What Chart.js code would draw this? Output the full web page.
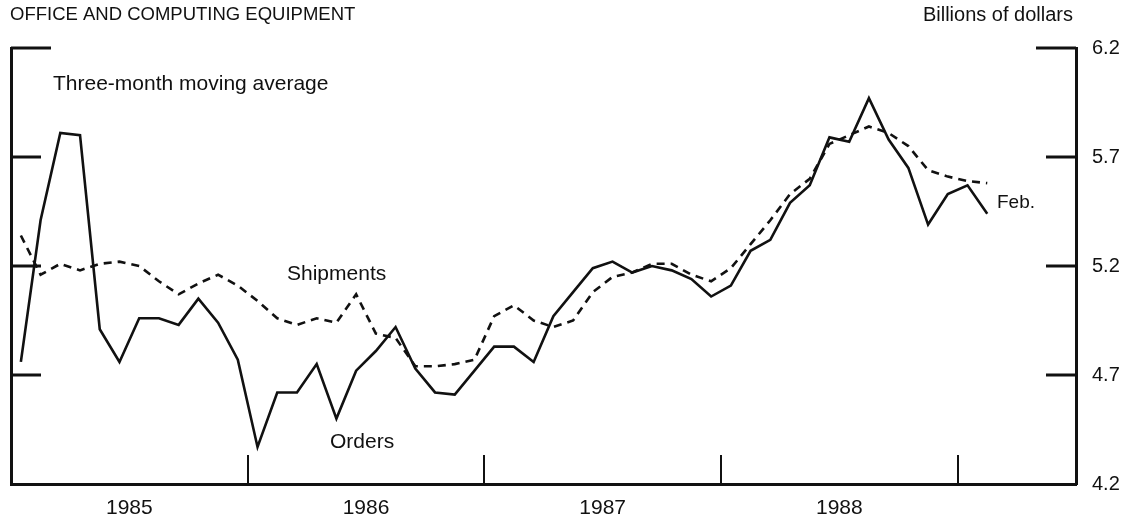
<!DOCTYPE html>
<html lang="en">
<head>
<meta charset="UTF-8">
<title>Office and Computing Equipment</title>
<script src="https://cdn.jsdelivr.net/npm/chart.js"></script>
<style>
    html, body { margin: 0; padding: 0; background: #fff; }
</style>
</head>
<body>
<canvas id="chart" width="1136" height="525"></canvas>
<script>
    // Three-month moving averages, monthly from Jan 1985 to Feb 1989 (billions of dollars)
    const orders = [
        4.76, 5.41, 5.81, 5.80, 4.91, 4.76, 4.96, 4.96, 4.93, 5.05, 4.94, 4.77,
        4.37, 4.62, 4.62, 4.75, 4.50, 4.72, 4.81, 4.92, 4.73, 4.62, 4.61, 4.72,
        4.83, 4.83, 4.76, 4.97, 5.08, 5.19, 5.22, 5.17, 5.20, 5.18, 5.14, 5.06,
        5.11, 5.27, 5.32, 5.49, 5.57, 5.79, 5.77, 5.97, 5.78, 5.65, 5.39, 5.53,
        5.57, 5.44
    ];
    const shipments = [
        5.34, 5.16, 5.21, 5.18, 5.21, 5.22, 5.20, 5.13, 5.07, 5.12, 5.16, 5.11,
        5.04, 4.96, 4.93, 4.96, 4.94, 5.07, 4.89, 4.87, 4.74, 4.74, 4.75, 4.77,
        4.97, 5.02, 4.95, 4.92, 4.95, 5.08, 5.15, 5.17, 5.21, 5.21, 5.16, 5.13,
        5.19, 5.30, 5.41, 5.53, 5.60, 5.76, 5.80, 5.84, 5.81, 5.75, 5.64, 5.61,
        5.59, 5.58
    ];
    const yearLabels = ['1985', '1986', '1987', '1988'];
    const yTicks = [4.2, 4.7, 5.2, 5.7, 6.2];

    const FONT = '"Liberation Sans", Arial, sans-serif';
    const INK = '#111';

    // each month sits in the middle of its slot on the x scale
    const toPoints = (arr) => arr.map((v, i) => ({ x: i + 0.5, y: v }));
    const setYTicks = (scale) => { scale.ticks = yTicks.map((v) => ({ value: v })); };

    // inward tick marks, year separators and the text labels
    const decorations = {
        id: 'decorations',
        afterDatasetsDraw(chart) {
            const { ctx, chartArea: a } = chart;
            const x = chart.scales.x;
            const y = chart.scales.y;
            ctx.save();
            ctx.strokeStyle = INK;
            ctx.lineWidth = 3;
            yTicks.slice(1).forEach((v) => {
                const py = y.getPixelForValue(v);
                const len = v === 6.2 ? 40 : 30;
                ctx.beginPath();
                ctx.moveTo(a.left, py);
                ctx.lineTo(a.left + len, py);
                ctx.moveTo(a.right - len, py);
                ctx.lineTo(a.right, py);
                ctx.stroke();
            });
            ctx.lineWidth = 2;
            yearLabels.forEach((_, k) => {
                const px = Math.round(x.getPixelForValue((k + 1) * 12));
                ctx.beginPath();
                ctx.moveTo(px, a.bottom);
                ctx.lineTo(px, a.bottom - 29);
                ctx.stroke();
            });

            ctx.fillStyle = INK;
            ctx.textBaseline = 'alphabetic';
            ctx.textAlign = 'left';
            ctx.font = '18.5px ' + FONT;
            ctx.fillText('OFFICE AND COMPUTING EQUIPMENT', 10, 20);
            ctx.font = '21px ' + FONT;
            ctx.fillText('Three-month moving average', 53, 90);
            ctx.fillText('Shipments', 287, 280);
            ctx.fillText('Orders', 330, 448);
            ctx.font = '19px ' + FONT;
            ctx.fillText('Feb.', 997, 208);
            ctx.textAlign = 'right';
            ctx.font = '20px ' + FONT;
            ctx.fillText('Billions of dollars', 1073, 21);
            ctx.restore();
        }
    };

    new Chart(document.getElementById('chart'), {
        type: 'line',
        data: {
            datasets: [
                {
                    label: 'Orders',
                    data: toPoints(orders),
                    borderColor: INK,
                    borderWidth: 2.6,
                    pointRadius: 0,
                    tension: 0,
                    yAxisID: 'y'
                },
                {
                    label: 'Shipments',
                    data: toPoints(shipments),
                    borderColor: INK,
                    borderWidth: 2.6,
                    borderDash: [8, 6],
                    pointRadius: 0,
                    tension: 0,
                    yAxisID: 'y'
                }
            ]
        },
        options: {
            responsive: false,
            animation: false,
            devicePixelRatio: 1,
            layout: { padding: { top: 48, left: 0, right: 0, bottom: 0 } },
            plugins: {
                legend: { display: false },
                tooltip: { enabled: false }
            },
            scales: {
                x: {
                    type: 'linear',
                    min: 0,
                    max: 54,
                    grid: { display: false, drawTicks: false },
                    border: { display: true, color: INK, width: 3 },
                    afterBuildTicks: (s) => { s.ticks = yearLabels.map((_, k) => ({ value: k * 12 + 6 })); },
                    ticks: {
                        autoSkip: false,
                        maxRotation: 0,
                        padding: 12,
                        color: INK,
                        font: { family: FONT, size: 21 },
                        callback: (v, i) => yearLabels[i]
                    },
                    afterFit: (s) => { s.height = 41; }
                },
                y: {
                    type: 'linear',
                    position: 'left',
                    min: 4.2,
                    max: 6.2,
                    afterBuildTicks: setYTicks,
                    ticks: { display: false },
                    grid: { display: false, drawTicks: false },
                    border: { display: true, color: INK, width: 3 },
                    afterFit: (s) => { s.width = 11; }
                },
                yRight: {
                    type: 'linear',
                    position: 'right',
                    min: 4.2,
                    max: 6.2,
                    afterBuildTicks: setYTicks,
                    ticks: {
                        padding: 16,
                        color: INK,
                        font: { family: FONT, size: 20 },
                        callback: (v) => v.toFixed(1)
                    },
                    grid: { display: false, drawTicks: false },
                    border: { display: true, color: INK, width: 3 },
                    afterFit: (s) => { s.width = 60; }
                }
            }
        },
        plugins: [decorations]
    });
</script>
</body>
</html>
